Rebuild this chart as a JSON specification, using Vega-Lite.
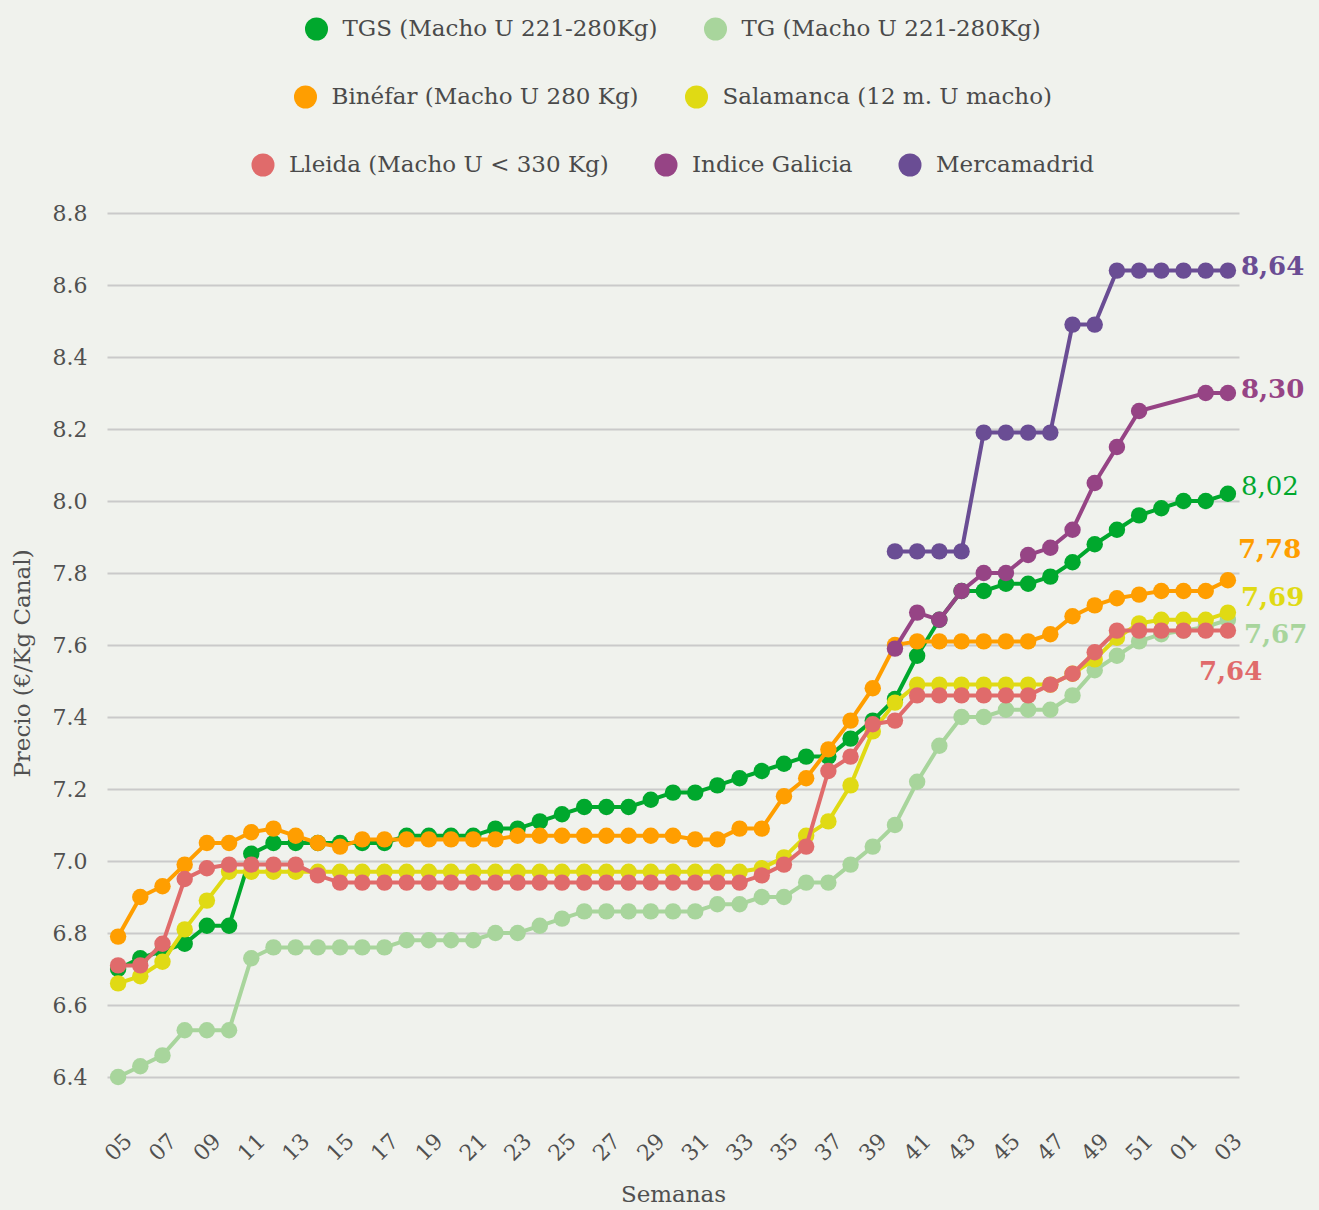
{
  "$schema": "https://vega.github.io/schema/vega-lite/v6.json",
  "width": 1132,
  "height": 900,
  "padding": {"left": 11, "right": 11, "top": 17, "bottom": 6},
  "background": "#f0f2ed",
  "config": {
    "view": {"stroke": null},
    "font": "DejaVu Serif",
    "axis": {
      "labelFont": "DejaVu Serif",
      "titleFont": "DejaVu Serif",
      "labelColor": "#505050",
      "titleColor": "#505050",
      "labelFontSize": 22,
      "titleFontSize": 23,
      "titleFontWeight": "normal",
      "domain": false,
      "ticks": false,
      "gridColor": "#cacaca",
      "gridWidth": 2
    },
    "legend": {
      "orient": "top",
      "direction": "horizontal",
      "symbolType": "circle",
      "symbolSize": 530,
      "symbolStrokeWidth": 0,
      "labelFont": "DejaVu Serif",
      "labelFontSize": 23,
      "labelColor": "#4a4a4a",
      "labelLimit": 0,
      "columnPadding": 45,
      "labelOffset": 14,
      "padding": 0,
      "offset": 36,
      "layout": {"top": {"anchor": "middle", "direction": "vertical", "center": true, "margin": 44}}
    }
  },
  "datasets": {
    "precios": [
      {"serie": "TG (Macho U 221-280Kg)", "semana": "05", "precio": 6.40},
      {"serie": "TG (Macho U 221-280Kg)", "semana": "06", "precio": 6.43},
      {"serie": "TG (Macho U 221-280Kg)", "semana": "07", "precio": 6.46},
      {"serie": "TG (Macho U 221-280Kg)", "semana": "08", "precio": 6.53},
      {"serie": "TG (Macho U 221-280Kg)", "semana": "09", "precio": 6.53},
      {"serie": "TG (Macho U 221-280Kg)", "semana": "10", "precio": 6.53},
      {"serie": "TG (Macho U 221-280Kg)", "semana": "11", "precio": 6.73},
      {"serie": "TG (Macho U 221-280Kg)", "semana": "12", "precio": 6.76},
      {"serie": "TG (Macho U 221-280Kg)", "semana": "13", "precio": 6.76},
      {"serie": "TG (Macho U 221-280Kg)", "semana": "14", "precio": 6.76},
      {"serie": "TG (Macho U 221-280Kg)", "semana": "15", "precio": 6.76},
      {"serie": "TG (Macho U 221-280Kg)", "semana": "16", "precio": 6.76},
      {"serie": "TG (Macho U 221-280Kg)", "semana": "17", "precio": 6.76},
      {"serie": "TG (Macho U 221-280Kg)", "semana": "18", "precio": 6.78},
      {"serie": "TG (Macho U 221-280Kg)", "semana": "19", "precio": 6.78},
      {"serie": "TG (Macho U 221-280Kg)", "semana": "20", "precio": 6.78},
      {"serie": "TG (Macho U 221-280Kg)", "semana": "21", "precio": 6.78},
      {"serie": "TG (Macho U 221-280Kg)", "semana": "22", "precio": 6.80},
      {"serie": "TG (Macho U 221-280Kg)", "semana": "23", "precio": 6.80},
      {"serie": "TG (Macho U 221-280Kg)", "semana": "24", "precio": 6.82},
      {"serie": "TG (Macho U 221-280Kg)", "semana": "25", "precio": 6.84},
      {"serie": "TG (Macho U 221-280Kg)", "semana": "26", "precio": 6.86},
      {"serie": "TG (Macho U 221-280Kg)", "semana": "27", "precio": 6.86},
      {"serie": "TG (Macho U 221-280Kg)", "semana": "28", "precio": 6.86},
      {"serie": "TG (Macho U 221-280Kg)", "semana": "29", "precio": 6.86},
      {"serie": "TG (Macho U 221-280Kg)", "semana": "30", "precio": 6.86},
      {"serie": "TG (Macho U 221-280Kg)", "semana": "31", "precio": 6.86},
      {"serie": "TG (Macho U 221-280Kg)", "semana": "32", "precio": 6.88},
      {"serie": "TG (Macho U 221-280Kg)", "semana": "33", "precio": 6.88},
      {"serie": "TG (Macho U 221-280Kg)", "semana": "34", "precio": 6.90},
      {"serie": "TG (Macho U 221-280Kg)", "semana": "35", "precio": 6.90},
      {"serie": "TG (Macho U 221-280Kg)", "semana": "36", "precio": 6.94},
      {"serie": "TG (Macho U 221-280Kg)", "semana": "37", "precio": 6.94},
      {"serie": "TG (Macho U 221-280Kg)", "semana": "38", "precio": 6.99},
      {"serie": "TG (Macho U 221-280Kg)", "semana": "39", "precio": 7.04},
      {"serie": "TG (Macho U 221-280Kg)", "semana": "40", "precio": 7.10},
      {"serie": "TG (Macho U 221-280Kg)", "semana": "41", "precio": 7.22},
      {"serie": "TG (Macho U 221-280Kg)", "semana": "42", "precio": 7.32},
      {"serie": "TG (Macho U 221-280Kg)", "semana": "43", "precio": 7.40},
      {"serie": "TG (Macho U 221-280Kg)", "semana": "44", "precio": 7.40},
      {"serie": "TG (Macho U 221-280Kg)", "semana": "45", "precio": 7.42},
      {"serie": "TG (Macho U 221-280Kg)", "semana": "46", "precio": 7.42},
      {"serie": "TG (Macho U 221-280Kg)", "semana": "47", "precio": 7.42},
      {"serie": "TG (Macho U 221-280Kg)", "semana": "48", "precio": 7.46},
      {"serie": "TG (Macho U 221-280Kg)", "semana": "49", "precio": 7.53},
      {"serie": "TG (Macho U 221-280Kg)", "semana": "50", "precio": 7.57},
      {"serie": "TG (Macho U 221-280Kg)", "semana": "51", "precio": 7.61},
      {"serie": "TG (Macho U 221-280Kg)", "semana": "52", "precio": 7.63},
      {"serie": "TG (Macho U 221-280Kg)", "semana": "01", "precio": 7.64},
      {"serie": "TG (Macho U 221-280Kg)", "semana": "02", "precio": 7.65},
      {"serie": "TG (Macho U 221-280Kg)", "semana": "03", "precio": 7.67},

      {"serie": "TGS (Macho U 221-280Kg)", "semana": "05", "precio": 6.70},
      {"serie": "TGS (Macho U 221-280Kg)", "semana": "06", "precio": 6.73},
      {"serie": "TGS (Macho U 221-280Kg)", "semana": "07", "precio": 6.75},
      {"serie": "TGS (Macho U 221-280Kg)", "semana": "08", "precio": 6.77},
      {"serie": "TGS (Macho U 221-280Kg)", "semana": "09", "precio": 6.82},
      {"serie": "TGS (Macho U 221-280Kg)", "semana": "10", "precio": 6.82},
      {"serie": "TGS (Macho U 221-280Kg)", "semana": "11", "precio": 7.02},
      {"serie": "TGS (Macho U 221-280Kg)", "semana": "12", "precio": 7.05},
      {"serie": "TGS (Macho U 221-280Kg)", "semana": "13", "precio": 7.05},
      {"serie": "TGS (Macho U 221-280Kg)", "semana": "14", "precio": 7.05},
      {"serie": "TGS (Macho U 221-280Kg)", "semana": "15", "precio": 7.05},
      {"serie": "TGS (Macho U 221-280Kg)", "semana": "16", "precio": 7.05},
      {"serie": "TGS (Macho U 221-280Kg)", "semana": "17", "precio": 7.05},
      {"serie": "TGS (Macho U 221-280Kg)", "semana": "18", "precio": 7.07},
      {"serie": "TGS (Macho U 221-280Kg)", "semana": "19", "precio": 7.07},
      {"serie": "TGS (Macho U 221-280Kg)", "semana": "20", "precio": 7.07},
      {"serie": "TGS (Macho U 221-280Kg)", "semana": "21", "precio": 7.07},
      {"serie": "TGS (Macho U 221-280Kg)", "semana": "22", "precio": 7.09},
      {"serie": "TGS (Macho U 221-280Kg)", "semana": "23", "precio": 7.09},
      {"serie": "TGS (Macho U 221-280Kg)", "semana": "24", "precio": 7.11},
      {"serie": "TGS (Macho U 221-280Kg)", "semana": "25", "precio": 7.13},
      {"serie": "TGS (Macho U 221-280Kg)", "semana": "26", "precio": 7.15},
      {"serie": "TGS (Macho U 221-280Kg)", "semana": "27", "precio": 7.15},
      {"serie": "TGS (Macho U 221-280Kg)", "semana": "28", "precio": 7.15},
      {"serie": "TGS (Macho U 221-280Kg)", "semana": "29", "precio": 7.17},
      {"serie": "TGS (Macho U 221-280Kg)", "semana": "30", "precio": 7.19},
      {"serie": "TGS (Macho U 221-280Kg)", "semana": "31", "precio": 7.19},
      {"serie": "TGS (Macho U 221-280Kg)", "semana": "32", "precio": 7.21},
      {"serie": "TGS (Macho U 221-280Kg)", "semana": "33", "precio": 7.23},
      {"serie": "TGS (Macho U 221-280Kg)", "semana": "34", "precio": 7.25},
      {"serie": "TGS (Macho U 221-280Kg)", "semana": "35", "precio": 7.27},
      {"serie": "TGS (Macho U 221-280Kg)", "semana": "36", "precio": 7.29},
      {"serie": "TGS (Macho U 221-280Kg)", "semana": "37", "precio": 7.29},
      {"serie": "TGS (Macho U 221-280Kg)", "semana": "38", "precio": 7.34},
      {"serie": "TGS (Macho U 221-280Kg)", "semana": "39", "precio": 7.39},
      {"serie": "TGS (Macho U 221-280Kg)", "semana": "40", "precio": 7.45},
      {"serie": "TGS (Macho U 221-280Kg)", "semana": "41", "precio": 7.57},
      {"serie": "TGS (Macho U 221-280Kg)", "semana": "42", "precio": 7.67},
      {"serie": "TGS (Macho U 221-280Kg)", "semana": "43", "precio": 7.75},
      {"serie": "TGS (Macho U 221-280Kg)", "semana": "44", "precio": 7.75},
      {"serie": "TGS (Macho U 221-280Kg)", "semana": "45", "precio": 7.77},
      {"serie": "TGS (Macho U 221-280Kg)", "semana": "46", "precio": 7.77},
      {"serie": "TGS (Macho U 221-280Kg)", "semana": "47", "precio": 7.79},
      {"serie": "TGS (Macho U 221-280Kg)", "semana": "48", "precio": 7.83},
      {"serie": "TGS (Macho U 221-280Kg)", "semana": "49", "precio": 7.88},
      {"serie": "TGS (Macho U 221-280Kg)", "semana": "50", "precio": 7.92},
      {"serie": "TGS (Macho U 221-280Kg)", "semana": "51", "precio": 7.96},
      {"serie": "TGS (Macho U 221-280Kg)", "semana": "52", "precio": 7.98},
      {"serie": "TGS (Macho U 221-280Kg)", "semana": "01", "precio": 8.00},
      {"serie": "TGS (Macho U 221-280Kg)", "semana": "02", "precio": 8.00},
      {"serie": "TGS (Macho U 221-280Kg)", "semana": "03", "precio": 8.02},

      {"serie": "Binéfar (Macho U 280 Kg)", "semana": "05", "precio": 6.79},
      {"serie": "Binéfar (Macho U 280 Kg)", "semana": "06", "precio": 6.90},
      {"serie": "Binéfar (Macho U 280 Kg)", "semana": "07", "precio": 6.93},
      {"serie": "Binéfar (Macho U 280 Kg)", "semana": "08", "precio": 6.99},
      {"serie": "Binéfar (Macho U 280 Kg)", "semana": "09", "precio": 7.05},
      {"serie": "Binéfar (Macho U 280 Kg)", "semana": "10", "precio": 7.05},
      {"serie": "Binéfar (Macho U 280 Kg)", "semana": "11", "precio": 7.08},
      {"serie": "Binéfar (Macho U 280 Kg)", "semana": "12", "precio": 7.09},
      {"serie": "Binéfar (Macho U 280 Kg)", "semana": "13", "precio": 7.07},
      {"serie": "Binéfar (Macho U 280 Kg)", "semana": "14", "precio": 7.05},
      {"serie": "Binéfar (Macho U 280 Kg)", "semana": "15", "precio": 7.04},
      {"serie": "Binéfar (Macho U 280 Kg)", "semana": "16", "precio": 7.06},
      {"serie": "Binéfar (Macho U 280 Kg)", "semana": "17", "precio": 7.06},
      {"serie": "Binéfar (Macho U 280 Kg)", "semana": "18", "precio": 7.06},
      {"serie": "Binéfar (Macho U 280 Kg)", "semana": "19", "precio": 7.06},
      {"serie": "Binéfar (Macho U 280 Kg)", "semana": "20", "precio": 7.06},
      {"serie": "Binéfar (Macho U 280 Kg)", "semana": "21", "precio": 7.06},
      {"serie": "Binéfar (Macho U 280 Kg)", "semana": "22", "precio": 7.06},
      {"serie": "Binéfar (Macho U 280 Kg)", "semana": "23", "precio": 7.07},
      {"serie": "Binéfar (Macho U 280 Kg)", "semana": "24", "precio": 7.07},
      {"serie": "Binéfar (Macho U 280 Kg)", "semana": "25", "precio": 7.07},
      {"serie": "Binéfar (Macho U 280 Kg)", "semana": "26", "precio": 7.07},
      {"serie": "Binéfar (Macho U 280 Kg)", "semana": "27", "precio": 7.07},
      {"serie": "Binéfar (Macho U 280 Kg)", "semana": "28", "precio": 7.07},
      {"serie": "Binéfar (Macho U 280 Kg)", "semana": "29", "precio": 7.07},
      {"serie": "Binéfar (Macho U 280 Kg)", "semana": "30", "precio": 7.07},
      {"serie": "Binéfar (Macho U 280 Kg)", "semana": "31", "precio": 7.06},
      {"serie": "Binéfar (Macho U 280 Kg)", "semana": "32", "precio": 7.06},
      {"serie": "Binéfar (Macho U 280 Kg)", "semana": "33", "precio": 7.09},
      {"serie": "Binéfar (Macho U 280 Kg)", "semana": "34", "precio": 7.09},
      {"serie": "Binéfar (Macho U 280 Kg)", "semana": "35", "precio": 7.18},
      {"serie": "Binéfar (Macho U 280 Kg)", "semana": "36", "precio": 7.23},
      {"serie": "Binéfar (Macho U 280 Kg)", "semana": "37", "precio": 7.31},
      {"serie": "Binéfar (Macho U 280 Kg)", "semana": "38", "precio": 7.39},
      {"serie": "Binéfar (Macho U 280 Kg)", "semana": "39", "precio": 7.48},
      {"serie": "Binéfar (Macho U 280 Kg)", "semana": "40", "precio": 7.60},
      {"serie": "Binéfar (Macho U 280 Kg)", "semana": "41", "precio": 7.61},
      {"serie": "Binéfar (Macho U 280 Kg)", "semana": "42", "precio": 7.61},
      {"serie": "Binéfar (Macho U 280 Kg)", "semana": "43", "precio": 7.61},
      {"serie": "Binéfar (Macho U 280 Kg)", "semana": "44", "precio": 7.61},
      {"serie": "Binéfar (Macho U 280 Kg)", "semana": "45", "precio": 7.61},
      {"serie": "Binéfar (Macho U 280 Kg)", "semana": "46", "precio": 7.61},
      {"serie": "Binéfar (Macho U 280 Kg)", "semana": "47", "precio": 7.63},
      {"serie": "Binéfar (Macho U 280 Kg)", "semana": "48", "precio": 7.68},
      {"serie": "Binéfar (Macho U 280 Kg)", "semana": "49", "precio": 7.71},
      {"serie": "Binéfar (Macho U 280 Kg)", "semana": "50", "precio": 7.73},
      {"serie": "Binéfar (Macho U 280 Kg)", "semana": "51", "precio": 7.74},
      {"serie": "Binéfar (Macho U 280 Kg)", "semana": "52", "precio": 7.75},
      {"serie": "Binéfar (Macho U 280 Kg)", "semana": "01", "precio": 7.75},
      {"serie": "Binéfar (Macho U 280 Kg)", "semana": "02", "precio": 7.75},
      {"serie": "Binéfar (Macho U 280 Kg)", "semana": "03", "precio": 7.78},

      {"serie": "Salamanca (12 m. U macho)", "semana": "05", "precio": 6.66},
      {"serie": "Salamanca (12 m. U macho)", "semana": "06", "precio": 6.68},
      {"serie": "Salamanca (12 m. U macho)", "semana": "07", "precio": 6.72},
      {"serie": "Salamanca (12 m. U macho)", "semana": "08", "precio": 6.81},
      {"serie": "Salamanca (12 m. U macho)", "semana": "09", "precio": 6.89},
      {"serie": "Salamanca (12 m. U macho)", "semana": "10", "precio": 6.97},
      {"serie": "Salamanca (12 m. U macho)", "semana": "11", "precio": 6.97},
      {"serie": "Salamanca (12 m. U macho)", "semana": "12", "precio": 6.97},
      {"serie": "Salamanca (12 m. U macho)", "semana": "13", "precio": 6.97},
      {"serie": "Salamanca (12 m. U macho)", "semana": "14", "precio": 6.97},
      {"serie": "Salamanca (12 m. U macho)", "semana": "15", "precio": 6.97},
      {"serie": "Salamanca (12 m. U macho)", "semana": "16", "precio": 6.97},
      {"serie": "Salamanca (12 m. U macho)", "semana": "17", "precio": 6.97},
      {"serie": "Salamanca (12 m. U macho)", "semana": "18", "precio": 6.97},
      {"serie": "Salamanca (12 m. U macho)", "semana": "19", "precio": 6.97},
      {"serie": "Salamanca (12 m. U macho)", "semana": "20", "precio": 6.97},
      {"serie": "Salamanca (12 m. U macho)", "semana": "21", "precio": 6.97},
      {"serie": "Salamanca (12 m. U macho)", "semana": "22", "precio": 6.97},
      {"serie": "Salamanca (12 m. U macho)", "semana": "23", "precio": 6.97},
      {"serie": "Salamanca (12 m. U macho)", "semana": "24", "precio": 6.97},
      {"serie": "Salamanca (12 m. U macho)", "semana": "25", "precio": 6.97},
      {"serie": "Salamanca (12 m. U macho)", "semana": "26", "precio": 6.97},
      {"serie": "Salamanca (12 m. U macho)", "semana": "27", "precio": 6.97},
      {"serie": "Salamanca (12 m. U macho)", "semana": "28", "precio": 6.97},
      {"serie": "Salamanca (12 m. U macho)", "semana": "29", "precio": 6.97},
      {"serie": "Salamanca (12 m. U macho)", "semana": "30", "precio": 6.97},
      {"serie": "Salamanca (12 m. U macho)", "semana": "31", "precio": 6.97},
      {"serie": "Salamanca (12 m. U macho)", "semana": "32", "precio": 6.97},
      {"serie": "Salamanca (12 m. U macho)", "semana": "33", "precio": 6.97},
      {"serie": "Salamanca (12 m. U macho)", "semana": "34", "precio": 6.98},
      {"serie": "Salamanca (12 m. U macho)", "semana": "35", "precio": 7.01},
      {"serie": "Salamanca (12 m. U macho)", "semana": "36", "precio": 7.07},
      {"serie": "Salamanca (12 m. U macho)", "semana": "37", "precio": 7.11},
      {"serie": "Salamanca (12 m. U macho)", "semana": "38", "precio": 7.21},
      {"serie": "Salamanca (12 m. U macho)", "semana": "39", "precio": 7.36},
      {"serie": "Salamanca (12 m. U macho)", "semana": "40", "precio": 7.44},
      {"serie": "Salamanca (12 m. U macho)", "semana": "41", "precio": 7.49},
      {"serie": "Salamanca (12 m. U macho)", "semana": "42", "precio": 7.49},
      {"serie": "Salamanca (12 m. U macho)", "semana": "43", "precio": 7.49},
      {"serie": "Salamanca (12 m. U macho)", "semana": "44", "precio": 7.49},
      {"serie": "Salamanca (12 m. U macho)", "semana": "45", "precio": 7.49},
      {"serie": "Salamanca (12 m. U macho)", "semana": "46", "precio": 7.49},
      {"serie": "Salamanca (12 m. U macho)", "semana": "47", "precio": 7.49},
      {"serie": "Salamanca (12 m. U macho)", "semana": "48", "precio": 7.52},
      {"serie": "Salamanca (12 m. U macho)", "semana": "49", "precio": 7.56},
      {"serie": "Salamanca (12 m. U macho)", "semana": "50", "precio": 7.62},
      {"serie": "Salamanca (12 m. U macho)", "semana": "51", "precio": 7.66},
      {"serie": "Salamanca (12 m. U macho)", "semana": "52", "precio": 7.67},
      {"serie": "Salamanca (12 m. U macho)", "semana": "01", "precio": 7.67},
      {"serie": "Salamanca (12 m. U macho)", "semana": "02", "precio": 7.67},
      {"serie": "Salamanca (12 m. U macho)", "semana": "03", "precio": 7.69},

      {"serie": "Lleida (Macho U < 330 Kg)", "semana": "05", "precio": 6.71},
      {"serie": "Lleida (Macho U < 330 Kg)", "semana": "06", "precio": 6.71},
      {"serie": "Lleida (Macho U < 330 Kg)", "semana": "07", "precio": 6.77},
      {"serie": "Lleida (Macho U < 330 Kg)", "semana": "08", "precio": 6.95},
      {"serie": "Lleida (Macho U < 330 Kg)", "semana": "09", "precio": 6.98},
      {"serie": "Lleida (Macho U < 330 Kg)", "semana": "10", "precio": 6.99},
      {"serie": "Lleida (Macho U < 330 Kg)", "semana": "11", "precio": 6.99},
      {"serie": "Lleida (Macho U < 330 Kg)", "semana": "12", "precio": 6.99},
      {"serie": "Lleida (Macho U < 330 Kg)", "semana": "13", "precio": 6.99},
      {"serie": "Lleida (Macho U < 330 Kg)", "semana": "14", "precio": 6.96},
      {"serie": "Lleida (Macho U < 330 Kg)", "semana": "15", "precio": 6.94},
      {"serie": "Lleida (Macho U < 330 Kg)", "semana": "16", "precio": 6.94},
      {"serie": "Lleida (Macho U < 330 Kg)", "semana": "17", "precio": 6.94},
      {"serie": "Lleida (Macho U < 330 Kg)", "semana": "18", "precio": 6.94},
      {"serie": "Lleida (Macho U < 330 Kg)", "semana": "19", "precio": 6.94},
      {"serie": "Lleida (Macho U < 330 Kg)", "semana": "20", "precio": 6.94},
      {"serie": "Lleida (Macho U < 330 Kg)", "semana": "21", "precio": 6.94},
      {"serie": "Lleida (Macho U < 330 Kg)", "semana": "22", "precio": 6.94},
      {"serie": "Lleida (Macho U < 330 Kg)", "semana": "23", "precio": 6.94},
      {"serie": "Lleida (Macho U < 330 Kg)", "semana": "24", "precio": 6.94},
      {"serie": "Lleida (Macho U < 330 Kg)", "semana": "25", "precio": 6.94},
      {"serie": "Lleida (Macho U < 330 Kg)", "semana": "26", "precio": 6.94},
      {"serie": "Lleida (Macho U < 330 Kg)", "semana": "27", "precio": 6.94},
      {"serie": "Lleida (Macho U < 330 Kg)", "semana": "28", "precio": 6.94},
      {"serie": "Lleida (Macho U < 330 Kg)", "semana": "29", "precio": 6.94},
      {"serie": "Lleida (Macho U < 330 Kg)", "semana": "30", "precio": 6.94},
      {"serie": "Lleida (Macho U < 330 Kg)", "semana": "31", "precio": 6.94},
      {"serie": "Lleida (Macho U < 330 Kg)", "semana": "32", "precio": 6.94},
      {"serie": "Lleida (Macho U < 330 Kg)", "semana": "33", "precio": 6.94},
      {"serie": "Lleida (Macho U < 330 Kg)", "semana": "34", "precio": 6.96},
      {"serie": "Lleida (Macho U < 330 Kg)", "semana": "35", "precio": 6.99},
      {"serie": "Lleida (Macho U < 330 Kg)", "semana": "36", "precio": 7.04},
      {"serie": "Lleida (Macho U < 330 Kg)", "semana": "37", "precio": 7.25},
      {"serie": "Lleida (Macho U < 330 Kg)", "semana": "38", "precio": 7.29},
      {"serie": "Lleida (Macho U < 330 Kg)", "semana": "39", "precio": 7.38},
      {"serie": "Lleida (Macho U < 330 Kg)", "semana": "40", "precio": 7.39},
      {"serie": "Lleida (Macho U < 330 Kg)", "semana": "41", "precio": 7.46},
      {"serie": "Lleida (Macho U < 330 Kg)", "semana": "42", "precio": 7.46},
      {"serie": "Lleida (Macho U < 330 Kg)", "semana": "43", "precio": 7.46},
      {"serie": "Lleida (Macho U < 330 Kg)", "semana": "44", "precio": 7.46},
      {"serie": "Lleida (Macho U < 330 Kg)", "semana": "45", "precio": 7.46},
      {"serie": "Lleida (Macho U < 330 Kg)", "semana": "46", "precio": 7.46},
      {"serie": "Lleida (Macho U < 330 Kg)", "semana": "47", "precio": 7.49},
      {"serie": "Lleida (Macho U < 330 Kg)", "semana": "48", "precio": 7.52},
      {"serie": "Lleida (Macho U < 330 Kg)", "semana": "49", "precio": 7.58},
      {"serie": "Lleida (Macho U < 330 Kg)", "semana": "50", "precio": 7.64},
      {"serie": "Lleida (Macho U < 330 Kg)", "semana": "51", "precio": 7.64},
      {"serie": "Lleida (Macho U < 330 Kg)", "semana": "52", "precio": 7.64},
      {"serie": "Lleida (Macho U < 330 Kg)", "semana": "01", "precio": 7.64},
      {"serie": "Lleida (Macho U < 330 Kg)", "semana": "02", "precio": 7.64},
      {"serie": "Lleida (Macho U < 330 Kg)", "semana": "03", "precio": 7.64},

      {"serie": "Indice Galicia", "semana": "40", "precio": 7.59},
      {"serie": "Indice Galicia", "semana": "41", "precio": 7.69},
      {"serie": "Indice Galicia", "semana": "42", "precio": 7.67},
      {"serie": "Indice Galicia", "semana": "43", "precio": 7.75},
      {"serie": "Indice Galicia", "semana": "44", "precio": 7.80},
      {"serie": "Indice Galicia", "semana": "45", "precio": 7.80},
      {"serie": "Indice Galicia", "semana": "46", "precio": 7.85},
      {"serie": "Indice Galicia", "semana": "47", "precio": 7.87},
      {"serie": "Indice Galicia", "semana": "48", "precio": 7.92},
      {"serie": "Indice Galicia", "semana": "49", "precio": 8.05},
      {"serie": "Indice Galicia", "semana": "50", "precio": 8.15},
      {"serie": "Indice Galicia", "semana": "51", "precio": 8.25},
      {"serie": "Indice Galicia", "semana": "02", "precio": 8.30},
      {"serie": "Indice Galicia", "semana": "03", "precio": 8.30},

      {"serie": "Mercamadrid", "semana": "40", "precio": 7.86},
      {"serie": "Mercamadrid", "semana": "41", "precio": 7.86},
      {"serie": "Mercamadrid", "semana": "42", "precio": 7.86},
      {"serie": "Mercamadrid", "semana": "43", "precio": 7.86},
      {"serie": "Mercamadrid", "semana": "44", "precio": 8.19},
      {"serie": "Mercamadrid", "semana": "45", "precio": 8.19},
      {"serie": "Mercamadrid", "semana": "46", "precio": 8.19},
      {"serie": "Mercamadrid", "semana": "47", "precio": 8.19},
      {"serie": "Mercamadrid", "semana": "48", "precio": 8.49},
      {"serie": "Mercamadrid", "semana": "49", "precio": 8.49},
      {"serie": "Mercamadrid", "semana": "50", "precio": 8.64},
      {"serie": "Mercamadrid", "semana": "51", "precio": 8.64},
      {"serie": "Mercamadrid", "semana": "52", "precio": 8.64},
      {"serie": "Mercamadrid", "semana": "01", "precio": 8.64},
      {"serie": "Mercamadrid", "semana": "02", "precio": 8.64},
      {"serie": "Mercamadrid", "semana": "03", "precio": 8.64}
    ],
    "etiquetas": [
      {"serie": "Mercamadrid", "semana": "03", "precio": 8.64, "etiqueta": "8,64"},
      {"serie": "Indice Galicia", "semana": "03", "precio": 8.30, "etiqueta": "8,30"},
      {"serie": "TGS (Macho U 221-280Kg)", "semana": "03", "precio": 8.02, "etiqueta": "8,02"},
      {"serie": "Binéfar (Macho U 280 Kg)", "semana": "03", "precio": 7.78, "etiqueta": "7,78"},
      {"serie": "Salamanca (12 m. U macho)", "semana": "03", "precio": 7.69, "etiqueta": "7,69"},
      {"serie": "TG (Macho U 221-280Kg)", "semana": "03", "precio": 7.67, "etiqueta": "7,67"},
      {"serie": "Lleida (Macho U < 330 Kg)", "semana": "03", "precio": 7.64, "etiqueta": "7,64"}
    ]
  },
  "data": {"name": "precios"},
  "encoding": {
    "x": {
      "field": "semana",
      "type": "ordinal",
      "scale": {
        "type": "point",
        "padding": 0.5,
        "domain": ["05","06","07","08","09","10","11","12","13","14","15","16","17","18","19","20","21","22","23","24","25","26","27","28","29","30","31","32","33","34","35","36","37","38","39","40","41","42","43","44","45","46","47","48","49","50","51","52","01","02","03"]
      },
      "axis": {
        "title": "Semanas",
        "values": ["05","07","09","11","13","15","17","19","21","23","25","27","29","31","33","35","37","39","41","43","45","47","49","51","01","03"],
        "labelAngle": -45,
        "labelAlign": "center",
        "labelBaseline": "middle",
        "labelPadding": 34,
        "grid": false,
        "titlePadding": 19
      }
    },
    "y": {
      "field": "precio",
      "type": "quantitative",
      "scale": {"domain": [6.3, 8.8], "nice": false, "zero": false},
      "axis": {
        "title": "Precio (€/Kg Canal)",
        "values": [6.4, 6.6, 6.8, 7.0, 7.2, 7.4, 7.6, 7.8, 8.0, 8.2, 8.4, 8.6, 8.8],
        "format": ".1f",
        "labelPadding": 20,
        "titlePadding": 18
      }
    }
  },
  "layer": [
    {
      "layer": [
        {
          "transform": [{"filter": "datum.serie === 'TG (Macho U 221-280Kg)'"}],
          "mark": {"type": "line", "strokeWidth": 4, "color": "#a8d59c"}
        },
        {
          "transform": [{"filter": "datum.serie === 'TG (Macho U 221-280Kg)'"}],
          "mark": {"type": "point", "filled": true, "size": 270, "opacity": 1},
          "encoding": {
            "color": {"field": "serie", "type": "nominal", "title": null,
              "scale": {"domain": ["TGS (Macho U 221-280Kg)", "TG (Macho U 221-280Kg)"], "range": ["#00a82d", "#a8d59c"]}}
          }
        },
        {
          "transform": [{"filter": "datum.serie === 'TGS (Macho U 221-280Kg)'"}],
          "mark": {"type": "line", "strokeWidth": 4, "color": "#00a82d"}
        },
        {
          "transform": [{"filter": "datum.serie === 'TGS (Macho U 221-280Kg)'"}],
          "mark": {"type": "point", "filled": true, "size": 270, "opacity": 1},
          "encoding": {
            "color": {"field": "serie", "type": "nominal", "title": null,
              "scale": {"domain": ["TGS (Macho U 221-280Kg)", "TG (Macho U 221-280Kg)"], "range": ["#00a82d", "#a8d59c"]}}
          }
        }
      ]
    },
    {
      "layer": [
        {
          "transform": [{"filter": "datum.serie === 'Binéfar (Macho U 280 Kg)'"}],
          "mark": {"type": "line", "strokeWidth": 4, "color": "#ff9e00"}
        },
        {
          "transform": [{"filter": "datum.serie === 'Binéfar (Macho U 280 Kg)'"}],
          "mark": {"type": "point", "filled": true, "size": 270, "opacity": 1},
          "encoding": {
            "color": {"field": "serie", "type": "nominal", "title": null,
              "scale": {"domain": ["Binéfar (Macho U 280 Kg)", "Salamanca (12 m. U macho)"], "range": ["#ff9e00", "#e0da14"]}}
          }
        },
        {
          "transform": [{"filter": "datum.serie === 'Salamanca (12 m. U macho)'"}],
          "mark": {"type": "line", "strokeWidth": 4, "color": "#e0da14"}
        },
        {
          "transform": [{"filter": "datum.serie === 'Salamanca (12 m. U macho)'"}],
          "mark": {"type": "point", "filled": true, "size": 270, "opacity": 1},
          "encoding": {
            "color": {"field": "serie", "type": "nominal", "title": null,
              "scale": {"domain": ["Binéfar (Macho U 280 Kg)", "Salamanca (12 m. U macho)"], "range": ["#ff9e00", "#e0da14"]}}
          }
        }
      ]
    },
    {
      "layer": [
        {
          "transform": [{"filter": "datum.serie === 'Lleida (Macho U < 330 Kg)'"}],
          "mark": {"type": "line", "strokeWidth": 4, "color": "#e06b6b"}
        },
        {
          "transform": [{"filter": "datum.serie === 'Lleida (Macho U < 330 Kg)'"}],
          "mark": {"type": "point", "filled": true, "size": 270, "opacity": 1},
          "encoding": {
            "color": {"field": "serie", "type": "nominal", "title": null,
              "scale": {"domain": ["Lleida (Macho U < 330 Kg)", "Indice Galicia", "Mercamadrid"], "range": ["#e06b6b", "#964485", "#6a4d94"]}}
          }
        },
        {
          "transform": [{"filter": "datum.serie === 'Indice Galicia'"}],
          "mark": {"type": "line", "strokeWidth": 4, "color": "#964485"}
        },
        {
          "transform": [{"filter": "datum.serie === 'Indice Galicia'"}],
          "mark": {"type": "point", "filled": true, "size": 270, "opacity": 1},
          "encoding": {
            "color": {"field": "serie", "type": "nominal", "title": null,
              "scale": {"domain": ["Lleida (Macho U < 330 Kg)", "Indice Galicia", "Mercamadrid"], "range": ["#e06b6b", "#964485", "#6a4d94"]}}
          }
        },
        {
          "transform": [{"filter": "datum.serie === 'Mercamadrid'"}],
          "mark": {"type": "line", "strokeWidth": 4, "color": "#6a4d94"}
        },
        {
          "transform": [{"filter": "datum.serie === 'Mercamadrid'"}],
          "mark": {"type": "point", "filled": true, "size": 270, "opacity": 1},
          "encoding": {
            "color": {"field": "serie", "type": "nominal", "title": null,
              "scale": {"domain": ["Lleida (Macho U < 330 Kg)", "Indice Galicia", "Mercamadrid"], "range": ["#e06b6b", "#964485", "#6a4d94"]}}
          }
        }
      ]
    },
    {
      "data": {"name": "etiquetas"},
      "transform": [{"filter": "datum.serie === 'Mercamadrid'"}],
      "mark": {"type": "text", "align": "left", "baseline": "middle", "dx": 13, "dy": -4, "fontSize": 26, "fontWeight": "bold", "font": "DejaVu Serif", "color": "#6a4d94"},
      "encoding": {"text": {"field": "etiqueta"}}
    },
    {
      "data": {"name": "etiquetas"},
      "transform": [{"filter": "datum.serie === 'Indice Galicia'"}],
      "mark": {"type": "text", "align": "left", "baseline": "middle", "dx": 13, "dy": -3, "fontSize": 26, "fontWeight": "bold", "font": "DejaVu Serif", "color": "#964485"},
      "encoding": {"text": {"field": "etiqueta"}}
    },
    {
      "data": {"name": "etiquetas"},
      "transform": [{"filter": "datum.serie === 'TGS (Macho U 221-280Kg)'"}],
      "mark": {"type": "text", "align": "left", "baseline": "middle", "dx": 13, "dy": -7, "fontSize": 26, "fontWeight": "normal", "font": "DejaVu Serif", "color": "#00a82d"},
      "encoding": {"text": {"field": "etiqueta"}}
    },
    {
      "data": {"name": "etiquetas"},
      "transform": [{"filter": "datum.serie === 'Binéfar (Macho U 280 Kg)'"}],
      "mark": {"type": "text", "align": "left", "baseline": "middle", "dx": 10, "dy": -30, "fontSize": 26, "fontWeight": "bold", "font": "DejaVu Serif", "color": "#ff9e00"},
      "encoding": {"text": {"field": "etiqueta"}}
    },
    {
      "data": {"name": "etiquetas"},
      "transform": [{"filter": "datum.serie === 'Salamanca (12 m. U macho)'"}],
      "mark": {"type": "text", "align": "left", "baseline": "middle", "dx": 13, "dy": -15, "fontSize": 26, "fontWeight": "bold", "font": "DejaVu Serif", "color": "#e0da14"},
      "encoding": {"text": {"field": "etiqueta"}}
    },
    {
      "data": {"name": "etiquetas"},
      "transform": [{"filter": "datum.serie === 'TG (Macho U 221-280Kg)'"}],
      "mark": {"type": "text", "align": "left", "baseline": "middle", "dx": 16, "dy": 15, "fontSize": 26, "fontWeight": "bold", "font": "DejaVu Serif", "color": "#a8d59c"},
      "encoding": {"text": {"field": "etiqueta"}}
    },
    {
      "data": {"name": "etiquetas"},
      "transform": [{"filter": "datum.serie === 'Lleida (Macho U < 330 Kg)'"}],
      "mark": {"type": "text", "align": "left", "baseline": "middle", "dx": -29, "dy": 41, "fontSize": 26, "fontWeight": "bold", "font": "DejaVu Serif", "color": "#e06b6b"},
      "encoding": {"text": {"field": "etiqueta"}}
    }
  ],
  "resolve": {"scale": {"color": "independent"}}
}
